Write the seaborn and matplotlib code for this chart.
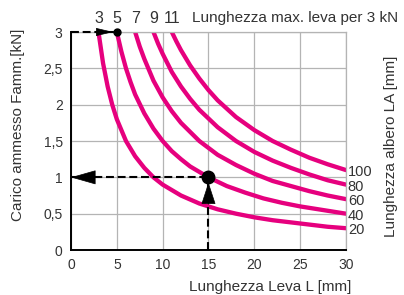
import numpy as np
import pandas as pd
import seaborn as sns
import matplotlib.pyplot as plt

# shaft length LA [mm] -> load curve (L [mm], F [kN])
L_20 = [3, 3.5, 4, 4.5, 5, 6, 7, 8, 9, 10, 12, 14, 16, 18, 20, 22, 24, 26, 28, 30]
F_20 = [3.0, 2.57, 2.25, 2.0, 1.8, 1.5, 1.29, 1.13, 1.0, 0.9, 0.75, 0.64, 0.56, 0.5, 0.45, 0.41, 0.38, 0.35, 0.32, 0.3]
L_40 = [5, 5.5, 6, 6.5, 7, 8, 9, 10, 11, 12, 13, 15, 17, 19, 21, 23, 25, 27, 30]
F_40 = [3.0, 2.73, 2.5, 2.31, 2.14, 1.88, 1.67, 1.5, 1.36, 1.25, 1.15, 1.0, 0.88, 0.79, 0.71, 0.65, 0.6, 0.56, 0.5]
L_60 = [7, 7.5, 8, 9, 10, 11, 12, 14, 16, 18, 20, 22, 24, 26, 28, 30]
F_60 = [3.0, 2.8, 2.63, 2.33, 2.1, 1.91, 1.75, 1.5, 1.31, 1.17, 1.05, 0.95, 0.88, 0.81, 0.75, 0.7]
L_80 = [9, 9.5, 10, 11, 12, 13, 14, 16, 18, 20, 22, 24, 26, 28, 30]
F_80 = [3.0, 2.84, 2.7, 2.45, 2.25, 2.08, 1.93, 1.69, 1.5, 1.35, 1.23, 1.13, 1.04, 0.96, 0.9]
L_100 = [11, 11.5, 12, 13, 14, 15, 16, 18, 20, 22, 24, 26, 28, 30]
F_100 = [3.0, 2.87, 2.75, 2.54, 2.36, 2.2, 2.06, 1.83, 1.65, 1.5, 1.38, 1.27, 1.18, 1.1]

la_values = [20, 40, 60, 80, 100]
max_lever = [3, 5, 7, 9, 11]          # lever length at 3 kN
x_ticks = [0, 5, 10, 15, 20, 25, 30]
y_ticks = [0, 0.5, 1, 1.5, 2, 2.5, 3]
y_ticklabels = ["0", "0,5", "1", "1,5", "2", "2,5", "3"]

# example reading: L = 15 mm on the LA 40 curve -> 1 kN
ex_L, ex_F = 15, 1
ex_top_L, ex_top_F = 5, 3

curves = [(L_20, F_20), (L_40, F_40), (L_60, F_60), (L_80, F_80), (L_100, F_100)]
df = pd.concat([pd.DataFrame({"L": l, "F": f, "LA": la})
                for (l, f), la in zip(curves, la_values)])

sns.set_style("white")
plt.rcParams["font.family"] = ["Liberation Sans", "DejaVu Sans"]
txt = "#333333"
pink = "#e6007e"
fs_tick = 10
fs_lab = 11

fig = plt.figure(figsize=(4.04, 2.95), dpi=100)
ax = fig.add_axes([0.1757, 0.1525, 0.6807, 0.739])

sns.lineplot(data=df, x="L", y="F", hue="LA", palette=[pink] * 5,
             linewidth=3.1, legend=False, ax=ax, sort=False)

ax.set_xlim(0, 30)
ax.set_ylim(0, 3)
ax.set_xticks(x_ticks)
ax.set_yticks(y_ticks)
ax.set_yticklabels(y_ticklabels)
ax.tick_params(length=0, labelsize=fs_tick, labelcolor=txt, pad=6)
ax.grid(True, color="#b4b4b4", lw=0.9)
ax.set_axisbelow(True)
for s in ["left", "bottom"]:
    ax.spines[s].set_color("black")
    ax.spines[s].set_linewidth(1.4)
    ax.spines[s].set_zorder(5)
for s in ["top", "right"]:
    ax.spines[s].set_color("#b4b4b4")
    ax.spines[s].set_linewidth(0.9)
ax.set_xlabel("")
ax.set_ylabel("")

# dashed reading lines
dash = dict(color="black", lw=1.5, dashes=(3.8, 1.8), clip_on=False, zorder=6)
ax.plot([0, ex_top_L], [ex_top_F, ex_top_F], **dash)
ax.plot([ex_L, ex_L], [0, ex_F], **dash)
ax.plot([0, ex_L], [ex_F, ex_F], **dash)

def head(tip, base, length, width):
    ax.annotate("", xy=tip, xytext=base,
                arrowprops=dict(arrowstyle=f"-|>,head_length={length},head_width={width}",
                                color="black", lw=0.5, shrinkA=0, shrinkB=0,
                                mutation_scale=1),
                annotation_clip=False, zorder=7)

head((4.6, 3), (2.9, 3), 11, 2.6)
head((0, 1), (2.5, 1), 16.5, 4.7)
head((15, 0.93), (15, 0.63), 14.4, 4.7)

ax.plot([ex_top_L], [ex_top_F], "o", color="black", ms=5, clip_on=False, zorder=8)
ax.plot([ex_L], [ex_F], "o", color="black", ms=9, clip_on=False, zorder=8)

# labels for max lever length at 3 kN
for v in max_lever:
    ax.text(v, 3.08, str(v), ha="center", va="bottom", fontsize=fs_lab + 0.5, color=txt)
fig.text(192 / 404, 1 - 18 / 295, "Lunghezza max. leva per 3 kN",
         ha="left", va="center", fontsize=fs_lab, color=txt)

# LA labels at curve ends
for la, (l, f) in zip(la_values, curves):
    ax.text(30.2, f[-1] - 0.03, str(la), ha="left", va="center",
            fontsize=fs_lab - 0.5, color=txt)

fig.text(18 / 404, 1 - 125 / 295, "Carico ammesso Famm.[kN]", rotation=90,
         ha="center", va="center", fontsize=fs_lab, color=txt)
fig.text(391 / 404, 1 - 146 / 295, "Lunghezza albero LA [mm]", rotation=90,
         ha="center", va="center", fontsize=fs_lab, color=txt)
fig.text(270 / 404, 1 - 287 / 295, "Lunghezza Leva L [mm]",
         ha="center", va="center", fontsize=fs_lab, color=txt)

fig.savefig("out.png", dpi=100)
